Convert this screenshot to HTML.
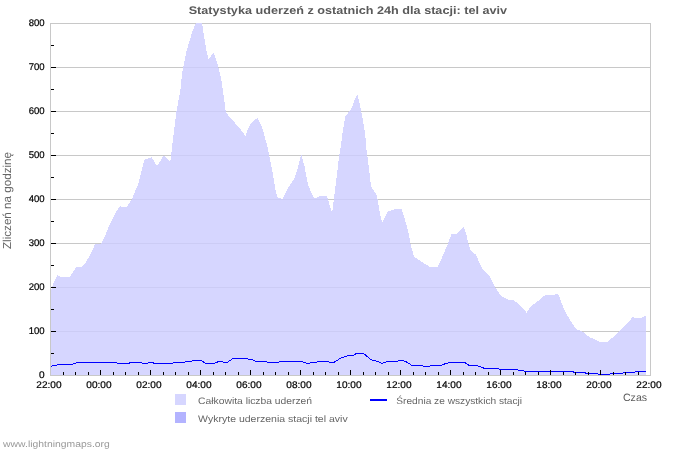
<!DOCTYPE html>
<html><head><meta charset="utf-8"><title>Statystyka</title>
<style>html,body{margin:0;padding:0;background:#fff;width:700px;height:450px;overflow:hidden}</style>
</head><body>
<svg width="700" height="450" viewBox="0 0 700 450" style="display:block;font-family:'Liberation Sans', sans-serif;will-change:transform;text-rendering:geometricPrecision">
<rect x="0" y="0" width="700" height="450" fill="#fff"/>
<rect x="50" y="23" width="601" height="1" fill="#c8c8c8"/>
<rect x="50" y="67" width="601" height="1" fill="#c8c8c8"/>
<rect x="50" y="111" width="601" height="1" fill="#c8c8c8"/>
<rect x="50" y="155" width="601" height="1" fill="#c8c8c8"/>
<rect x="50" y="199" width="601" height="1" fill="#c8c8c8"/>
<rect x="50" y="243" width="601" height="1" fill="#c8c8c8"/>
<rect x="50" y="287" width="601" height="1" fill="#c8c8c8"/>
<rect x="50" y="331" width="601" height="1" fill="#c8c8c8"/>
<rect x="50" y="375" width="601" height="1" fill="#c8c8c8"/>
<rect x="50" y="23" width="1" height="353" fill="#c8c8c8"/>
<rect x="650" y="23" width="1" height="353" fill="#c8c8c8"/>
<polygon points="51,375 50.9,290.6 53.8,282.7 57.4,275.2 61,276.9 69.7,276.9 73.3,271.8 76.2,267.1 82,266.8 86.3,261.7 89.9,255.2 95,244.4 101.5,243.4 105.2,236 107.2,230.4 110.4,223.2 114.4,215.2 117.2,210 120.4,206 121.2,207 126.8,207 128.4,204 131.7,199.7 138.3,183.7 143,165 144.7,159.7 148.3,158.3 151.7,157.3 157,166.3 163.7,155.4 169.7,161 170.8,159 172.5,143.3 176.7,110 180.4,90 182,74 183.6,66 186,53.2 189.2,42 192.4,31.6 195.3,24.4 196.5,23 202,23 204.2,37.2 206.4,50 208.4,59.5 213.4,52.6 214.8,55.6 218,66 221.2,78.8 222.8,90 225.8,111.7 227.5,114.2 230,117.5 235,123 240,128.5 245.5,136 247.5,130.5 251,123 254.5,120 257.5,118 260,122.5 263.5,131.5 265.5,140 267.1,145 270,159.5 272.8,173.9 275.7,191.2 277.2,197 282.2,199.2 287.3,189 294.5,178.2 297.4,169.6 301.3,154.4 304.6,166.7 308.2,185.5 314,198.5 319.8,196.3 327,196.3 329.3,204.1 332.2,212.8 334,198.4 335.8,183.9 337.3,172.3 338.7,159.3 340.6,147.5 342.9,130.4 345.2,116.4 348.3,112.6 351.4,108.7 354.5,100.1 357.4,94.3 360,105 362.5,117.5 365.3,135 366.2,147.5 369.1,169.5 371,186.1 374.1,191.1 376.3,194 377.7,199.8 379.9,212.8 382.2,223 388,211.5 392.3,210 396,209 401.7,209 403.2,213.7 406.1,223.8 409,235.3 411.1,246.9 414,256.3 415.5,257.7 419.8,260.6 425.6,264.2 429.9,266.8 437.9,266.8 442.2,257 447.2,245.5 451.5,234 456.4,233.8 463.7,227.3 465.8,232.3 468,241.7 470.2,249.7 472.3,251.8 476,254.7 478.8,261.2 482.5,269.2 485.3,272.1 489.3,275.1 492.2,281.6 495.1,287.4 498,291.7 501.6,296.5 508.1,299.7 513.2,300 519.7,304.7 523.3,308.4 526.6,312.7 529.8,307.6 534.1,304 539.9,299.7 545,295.1 553.6,295.1 557.3,293.2 559.4,296.8 563,306.9 566.6,314.3 570.5,320.8 576.6,329.6 579.5,330.3 583.8,332.5 589.6,337.3 594.6,339.3 599.7,341.9 607.6,341.9 614.1,336.1 622.1,328.2 627.9,322.4 632.6,317.3 637.3,318.1 641.6,317.6 645.9,315.9 645.9,375" fill="#d6d6ff" shape-rendering="crispEdges"/>
<clipPath id="cp"><polygon points="51,375 50.9,290.6 53.8,282.7 57.4,275.2 61,276.9 69.7,276.9 73.3,271.8 76.2,267.1 82,266.8 86.3,261.7 89.9,255.2 95,244.4 101.5,243.4 105.2,236 107.2,230.4 110.4,223.2 114.4,215.2 117.2,210 120.4,206 121.2,207 126.8,207 128.4,204 131.7,199.7 138.3,183.7 143,165 144.7,159.7 148.3,158.3 151.7,157.3 157,166.3 163.7,155.4 169.7,161 170.8,159 172.5,143.3 176.7,110 180.4,90 182,74 183.6,66 186,53.2 189.2,42 192.4,31.6 195.3,24.4 196.5,23 202,23 204.2,37.2 206.4,50 208.4,59.5 213.4,52.6 214.8,55.6 218,66 221.2,78.8 222.8,90 225.8,111.7 227.5,114.2 230,117.5 235,123 240,128.5 245.5,136 247.5,130.5 251,123 254.5,120 257.5,118 260,122.5 263.5,131.5 265.5,140 267.1,145 270,159.5 272.8,173.9 275.7,191.2 277.2,197 282.2,199.2 287.3,189 294.5,178.2 297.4,169.6 301.3,154.4 304.6,166.7 308.2,185.5 314,198.5 319.8,196.3 327,196.3 329.3,204.1 332.2,212.8 334,198.4 335.8,183.9 337.3,172.3 338.7,159.3 340.6,147.5 342.9,130.4 345.2,116.4 348.3,112.6 351.4,108.7 354.5,100.1 357.4,94.3 360,105 362.5,117.5 365.3,135 366.2,147.5 369.1,169.5 371,186.1 374.1,191.1 376.3,194 377.7,199.8 379.9,212.8 382.2,223 388,211.5 392.3,210 396,209 401.7,209 403.2,213.7 406.1,223.8 409,235.3 411.1,246.9 414,256.3 415.5,257.7 419.8,260.6 425.6,264.2 429.9,266.8 437.9,266.8 442.2,257 447.2,245.5 451.5,234 456.4,233.8 463.7,227.3 465.8,232.3 468,241.7 470.2,249.7 472.3,251.8 476,254.7 478.8,261.2 482.5,269.2 485.3,272.1 489.3,275.1 492.2,281.6 495.1,287.4 498,291.7 501.6,296.5 508.1,299.7 513.2,300 519.7,304.7 523.3,308.4 526.6,312.7 529.8,307.6 534.1,304 539.9,299.7 545,295.1 553.6,295.1 557.3,293.2 559.4,296.8 563,306.9 566.6,314.3 570.5,320.8 576.6,329.6 579.5,330.3 583.8,332.5 589.6,337.3 594.6,339.3 599.7,341.9 607.6,341.9 614.1,336.1 622.1,328.2 627.9,322.4 632.6,317.3 637.3,318.1 641.6,317.6 645.9,315.9 645.9,375" shape-rendering="crispEdges"/></clipPath>
<g clip-path="url(#cp)">
<rect x="51" y="67" width="599" height="1" fill="#8080b0" fill-opacity="0.12"/>
<rect x="51" y="111" width="599" height="1" fill="#8080b0" fill-opacity="0.12"/>
<rect x="51" y="155" width="599" height="1" fill="#8080b0" fill-opacity="0.12"/>
<rect x="51" y="199" width="599" height="1" fill="#8080b0" fill-opacity="0.12"/>
<rect x="51" y="243" width="599" height="1" fill="#8080b0" fill-opacity="0.12"/>
<rect x="51" y="287" width="599" height="1" fill="#8080b0" fill-opacity="0.12"/>
<rect x="51" y="331" width="599" height="1" fill="#8080b0" fill-opacity="0.12"/>
</g>
<rect x="51" y="375" width="600" height="1" fill="#c8c8c8"/>
<polyline points="50.9,366.5 53.7,365.5 60.1,364.5 72.3,364.5 73.7,363.5 78.7,362.5 116.6,362.5 118,363.5 128.7,363.5 130.1,362.5 140.9,362.5 143,363.5 147.1,363.5 148.6,362.5 152.9,362.5 154.3,363.5 172.1,363.5 173.6,362.5 184.3,362.5 185.7,361.5 191.4,361.5 192.9,360.5 201.4,360.5 205.7,363.5 214.3,363.5 216.4,362.5 218.6,361.5 222.1,361.5 224.3,362.5 227.1,362.5 231.4,359.5 232.9,358.5 247.1,358.5 248.6,359.5 252.1,359.5 255.7,361.5 266.4,361.5 267.9,362.5 278.6,362.5 280,361.5 302.1,361.5 307.1,363.5 309.3,363.5 311.4,362.5 315.7,362.5 317.9,361.5 327.9,361.5 330,362.5 333.6,362.5 338.6,359.5 340,358.5 345,356.5 348.6,355.5 352.9,355.5 356.4,353.5 363.6,353.5 370.7,359.5 373.6,360.5 377.9,361.5 382.1,363.5 387.1,361.5 397.1,361.5 399.3,360.5 402.9,360.5 405.7,361.5 412.1,365.5 422.1,365.5 424.3,366.5 428.6,366.5 430.7,365.5 441,365.5 442.6,364.5 446.5,363.5 450.4,362.5 464.6,362.5 469.3,365.5 477.2,365.5 481.9,367.5 485,368.5 497.6,368.5 500,369.5 516.5,369.5 518.8,370.5 522.8,370.5 525.1,371.5 572.7,371.5 574,372.5 584.7,372.5 586,373.5 597.5,373.5 599,374.5 609.5,374.5 611,373.5 622.5,373.5 623.5,372.5 634,372.5 635.5,371.5 645.8,371.5" fill="none" stroke="#0000ff" stroke-width="1" shape-rendering="crispEdges"/>
<rect x="51" y="67" width="5" height="1" fill="#000"/>
<rect x="51" y="111" width="5" height="1" fill="#000"/>
<rect x="51" y="155" width="5" height="1" fill="#000"/>
<rect x="51" y="199" width="5" height="1" fill="#000"/>
<rect x="51" y="243" width="5" height="1" fill="#000"/>
<rect x="51" y="287" width="5" height="1" fill="#000"/>
<rect x="51" y="331" width="5" height="1" fill="#000"/>
<rect x="51" y="45" width="3" height="1" fill="#000"/>
<rect x="51" y="89" width="3" height="1" fill="#000"/>
<rect x="51" y="133" width="3" height="1" fill="#000"/>
<rect x="51" y="177" width="3" height="1" fill="#000"/>
<rect x="51" y="221" width="3" height="1" fill="#000"/>
<rect x="51" y="265" width="3" height="1" fill="#000"/>
<rect x="51" y="309" width="3" height="1" fill="#000"/>
<rect x="51" y="353" width="3" height="1" fill="#000"/>
<rect x="63" y="372" width="1" height="3" fill="#000"/>
<rect x="75" y="372" width="1" height="3" fill="#000"/>
<rect x="88" y="372" width="1" height="3" fill="#000"/>
<rect x="100" y="370" width="1" height="5" fill="#000"/>
<rect x="113" y="372" width="1" height="3" fill="#000"/>
<rect x="125" y="372" width="1" height="3" fill="#000"/>
<rect x="138" y="372" width="1" height="3" fill="#000"/>
<rect x="150" y="370" width="1" height="5" fill="#000"/>
<rect x="163" y="372" width="1" height="3" fill="#000"/>
<rect x="175" y="372" width="1" height="3" fill="#000"/>
<rect x="188" y="372" width="1" height="3" fill="#000"/>
<rect x="200" y="370" width="1" height="5" fill="#000"/>
<rect x="213" y="372" width="1" height="3" fill="#000"/>
<rect x="225" y="372" width="1" height="3" fill="#000"/>
<rect x="238" y="372" width="1" height="3" fill="#000"/>
<rect x="250" y="370" width="1" height="5" fill="#000"/>
<rect x="263" y="372" width="1" height="3" fill="#000"/>
<rect x="275" y="372" width="1" height="3" fill="#000"/>
<rect x="288" y="372" width="1" height="3" fill="#000"/>
<rect x="300" y="370" width="1" height="5" fill="#000"/>
<rect x="313" y="372" width="1" height="3" fill="#000"/>
<rect x="325" y="372" width="1" height="3" fill="#000"/>
<rect x="338" y="372" width="1" height="3" fill="#000"/>
<rect x="350" y="370" width="1" height="5" fill="#000"/>
<rect x="363" y="372" width="1" height="3" fill="#000"/>
<rect x="375" y="372" width="1" height="3" fill="#000"/>
<rect x="388" y="372" width="1" height="3" fill="#000"/>
<rect x="400" y="370" width="1" height="5" fill="#000"/>
<rect x="413" y="372" width="1" height="3" fill="#000"/>
<rect x="425" y="372" width="1" height="3" fill="#000"/>
<rect x="438" y="372" width="1" height="3" fill="#000"/>
<rect x="450" y="370" width="1" height="5" fill="#000"/>
<rect x="463" y="372" width="1" height="3" fill="#000"/>
<rect x="475" y="372" width="1" height="3" fill="#000"/>
<rect x="488" y="372" width="1" height="3" fill="#000"/>
<rect x="500" y="370" width="1" height="5" fill="#000"/>
<rect x="513" y="372" width="1" height="3" fill="#000"/>
<rect x="525" y="372" width="1" height="3" fill="#000"/>
<rect x="538" y="372" width="1" height="3" fill="#000"/>
<rect x="550" y="370" width="1" height="5" fill="#000"/>
<rect x="563" y="372" width="1" height="3" fill="#000"/>
<rect x="575" y="372" width="1" height="3" fill="#000"/>
<rect x="588" y="372" width="1" height="3" fill="#000"/>
<rect x="600" y="370" width="1" height="5" fill="#000"/>
<rect x="613" y="372" width="1" height="3" fill="#000"/>
<rect x="625" y="372" width="1" height="3" fill="#000"/>
<rect x="638" y="372" width="1" height="3" fill="#000"/>
<text x="44.6" y="26" font-size="9.7" text-anchor="end" fill="#000" stroke="#000" stroke-width="0.2" textLength="15.9" lengthAdjust="spacingAndGlyphs">800</text>
<text x="44.6" y="70" font-size="9.7" text-anchor="end" fill="#000" stroke="#000" stroke-width="0.2" textLength="15.9" lengthAdjust="spacingAndGlyphs">700</text>
<text x="44.6" y="114" font-size="9.7" text-anchor="end" fill="#000" stroke="#000" stroke-width="0.2" textLength="15.9" lengthAdjust="spacingAndGlyphs">600</text>
<text x="44.6" y="158" font-size="9.7" text-anchor="end" fill="#000" stroke="#000" stroke-width="0.2" textLength="15.9" lengthAdjust="spacingAndGlyphs">500</text>
<text x="44.6" y="202" font-size="9.7" text-anchor="end" fill="#000" stroke="#000" stroke-width="0.2" textLength="15.9" lengthAdjust="spacingAndGlyphs">400</text>
<text x="44.6" y="246" font-size="9.7" text-anchor="end" fill="#000" stroke="#000" stroke-width="0.2" textLength="15.9" lengthAdjust="spacingAndGlyphs">300</text>
<text x="44.6" y="290" font-size="9.7" text-anchor="end" fill="#000" stroke="#000" stroke-width="0.2" textLength="15.9" lengthAdjust="spacingAndGlyphs">200</text>
<text x="44.6" y="334" font-size="9.7" text-anchor="end" fill="#000" stroke="#000" stroke-width="0.2" textLength="15.9" lengthAdjust="spacingAndGlyphs">100</text>
<text x="44.6" y="378" font-size="9.7" text-anchor="end" fill="#000" stroke="#000" stroke-width="0.2" textLength="5.6" lengthAdjust="spacingAndGlyphs">0</text>
<text x="36.3" y="388" font-size="9.7" fill="#000" stroke="#000" stroke-width="0.2" textLength="25.2" lengthAdjust="spacingAndGlyphs">22:00</text>
<text x="86.30000000000001" y="388" font-size="9.7" fill="#000" stroke="#000" stroke-width="0.2" textLength="25.2" lengthAdjust="spacingAndGlyphs">00:00</text>
<text x="136.3" y="388" font-size="9.7" fill="#000" stroke="#000" stroke-width="0.2" textLength="25.2" lengthAdjust="spacingAndGlyphs">02:00</text>
<text x="186.3" y="388" font-size="9.7" fill="#000" stroke="#000" stroke-width="0.2" textLength="25.2" lengthAdjust="spacingAndGlyphs">04:00</text>
<text x="236.3" y="388" font-size="9.7" fill="#000" stroke="#000" stroke-width="0.2" textLength="25.2" lengthAdjust="spacingAndGlyphs">06:00</text>
<text x="286.29999999999995" y="388" font-size="9.7" fill="#000" stroke="#000" stroke-width="0.2" textLength="25.2" lengthAdjust="spacingAndGlyphs">08:00</text>
<text x="336.29999999999995" y="388" font-size="9.7" fill="#000" stroke="#000" stroke-width="0.2" textLength="25.2" lengthAdjust="spacingAndGlyphs">10:00</text>
<text x="386.29999999999995" y="388" font-size="9.7" fill="#000" stroke="#000" stroke-width="0.2" textLength="25.2" lengthAdjust="spacingAndGlyphs">12:00</text>
<text x="436.29999999999995" y="388" font-size="9.7" fill="#000" stroke="#000" stroke-width="0.2" textLength="25.2" lengthAdjust="spacingAndGlyphs">14:00</text>
<text x="486.29999999999995" y="388" font-size="9.7" fill="#000" stroke="#000" stroke-width="0.2" textLength="25.2" lengthAdjust="spacingAndGlyphs">16:00</text>
<text x="536.3" y="388" font-size="9.7" fill="#000" stroke="#000" stroke-width="0.2" textLength="25.2" lengthAdjust="spacingAndGlyphs">18:00</text>
<text x="586.3" y="388" font-size="9.7" fill="#000" stroke="#000" stroke-width="0.2" textLength="25.2" lengthAdjust="spacingAndGlyphs">20:00</text>
<text x="636.3" y="388" font-size="9.7" fill="#000" stroke="#000" stroke-width="0.2" textLength="25.2" lengthAdjust="spacingAndGlyphs">22:00</text>
<text x="188.7" y="13.5" font-size="11" font-weight="bold" fill="#5a5a5a" textLength="318.4" lengthAdjust="spacingAndGlyphs">Statystyka uderzeń z ostatnich 24h dla stacji: tel aviv</text>
<text transform="translate(10.7,249) rotate(-90)" x="0" y="0" font-size="11.5" fill="#666" textLength="97" lengthAdjust="spacingAndGlyphs">Zliczeń na godzinę</text>
<text x="647.1" y="400.7" font-size="10.6" text-anchor="end" fill="#5c5c5c">Czas</text>
<rect x="175" y="394" width="11" height="11" fill="#d6d6ff"/>
<rect x="175" y="412" width="11" height="11" fill="#b3b3ff"/>
<text x="198.1" y="403.9" font-size="9.4" fill="#666" textLength="114" lengthAdjust="spacingAndGlyphs">Całkowita liczba uderzeń</text>
<text x="198.1" y="421.9" font-size="9.4" fill="#666" textLength="149.6" lengthAdjust="spacingAndGlyphs">Wykryte uderzenia stacji tel aviv</text>
<rect x="370" y="399" width="17" height="2" fill="#0000ff"/>
<text x="396.3" y="403.7" font-size="9.4" fill="#666" textLength="125.8" lengthAdjust="spacingAndGlyphs">Średnia ze wszystkich stacji</text>
<text x="3.1" y="447.2" font-size="9.1" fill="#999" textLength="106.7" lengthAdjust="spacingAndGlyphs">www.lightningmaps.org</text>
</svg>
</body></html>
